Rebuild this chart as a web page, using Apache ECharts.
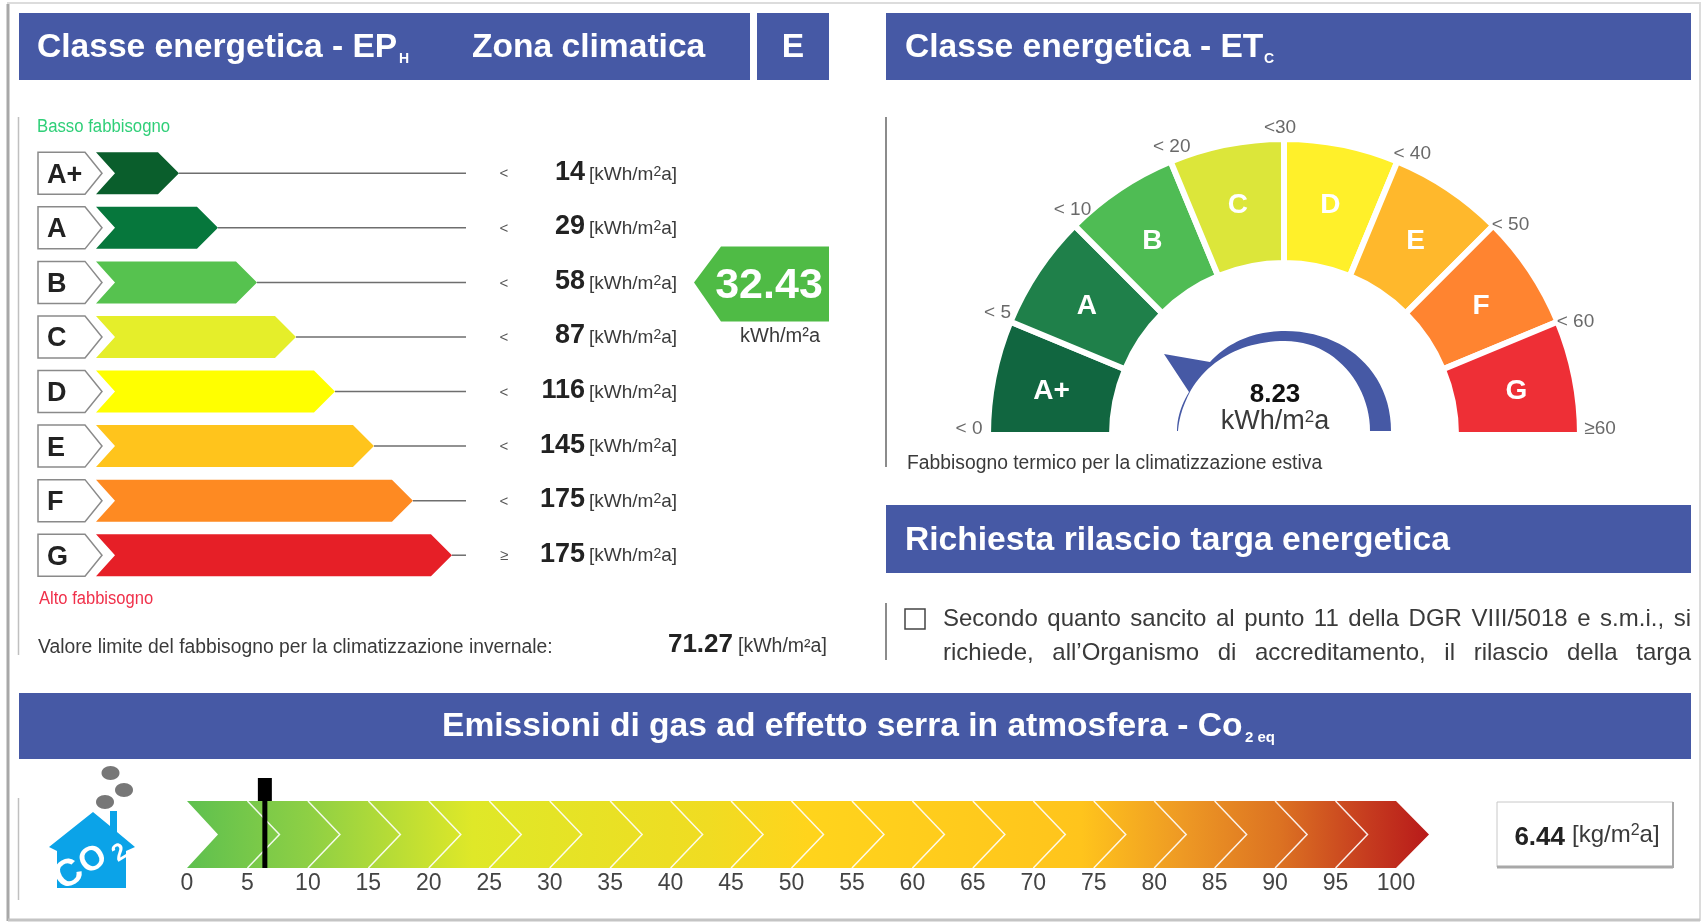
<!DOCTYPE html>
<html><head><meta charset="utf-8">
<style>html,body{margin:0;padding:0;background:#fff}#c{width:1704px;height:923px}</style>
<script src="https://cdn.jsdelivr.net/npm/echarts@6/dist/echarts.min.js"></script>
</head><body><div id="c"></div>
<script>
// ---- data ----
const classes = ['A+','A','B','C','D','E','F','G'];
const classRanks = [1,2,3,4,5,6,7,8];
const classLimits = [14,29,58,87,116,145,175,175];
const classOps = ['<','<','<','<','<','<','<','≥'];
const classColors = ['#0a5e2c','#06773c','#56c24f','#e5ee2a','#ffff00','#ffc41c','#fe8a22','#e61f27'];
const heatingValue = 32.43;
const heatingClass = 'B';
const heatingLimit = 71.27;
const gaugeClasses = ['A+','A','B','C','D','E','F','G'];
const gaugeColors = ['#116640','#1f804a','#4fbc54','#dce63a','#fff02a','#ffb82c','#ff8430','#ee2f36'];
const gaugeShares = [1,1,1,1,1,1,1,1];
const gaugeLimits = ['< 0','< 5','< 10','< 20','<30','< 40','< 50','< 60','≥60'];
const coolingValue = 8.23;
const co2Steps = [5,10,15,20,25,30,35,40,45,50,55,60,65,70,75,80,85,90,95];
const co2Range = [0,100];
const co2Value = 6.44;

// ---- style constants ----
const FAMILY = '"Liberation Sans", Arial, sans-serif';
const BLUE = '#4659a5';
const TXT = '#3a3a3a';
const HEAD = 33.6;
const f = (s, b) => (b ? 'bold ' : '') + s + 'px ' + FAMILY;
const rowsMin = -1.128, rowsMax = 8.36;
const gaugeLabelNudge = [[-6,-5],[-1,-3],[7,-6],[6,-2],[-4,3],[10,5],[8,9],[6,6],[7,-5]];
const ctx = document.createElement('canvas').getContext('2d');

function txt(x, y, text, font, fill, align, sx) {
  return {type:'text', silent:true, x, y, scaleX: sx || 1,
    style:{x:0, y:0, text, font, fill: fill || TXT, textAlign: align || 'left', textVerticalAlign:'middle'}};
}
// unit text with a raised "2"
function unit(before, after, size, supSize) {
  return {text: before + '{s|2}' + after, fontSize:size, fontFamily:FAMILY,
    rich:{s:{fontSize:supSize, fontFamily:FAMILY, verticalAlign:'top', fill:TXT}}};
}
function unitEl(x, y, before, after, size, supSize, sx, align) {
  return {type:'text', silent:true, x, y, scaleX: sx || 1,
    style:Object.assign({x:0, y:0, fill:TXT, textAlign: align || 'left', textVerticalAlign:'middle'}, unit(before, after, size, supSize))};
}
function band(x, y, w, h) {
  return {type:'rect', silent:true, shape:{x, y, width:w, height:h}, style:{fill:BLUE}};
}
function line(x1, y1, x2, y2, c, w) {
  return {type:'line', silent:true, shape:{x1, y1, x2, y2}, style:{stroke:c, lineWidth:w}};
}
function justified(s, x0, x1, y, font) {
  ctx.font = font;
  const words = s.split(' ');
  const tot = words.reduce((a, w) => a + ctx.measureText(w).width, 0);
  const gap = (x1 - x0 - tot) / (words.length - 1);
  let x = x0;
  return words.map(w => { const e = txt(x, y, w, font); x += ctx.measureText(w).width + gap; return e; });
}
// sample a chain of cubic segments into polygon points (the decorative gauge arrow)
function curve(start, segs) {
  const pts = [start];
  let p = start;
  segs.forEach(s => {
    if (s.length === 1) { pts.push(s[0]); p = s[0]; return; }
    for (let k = 1; k <= 24; k++) {
      const t = k / 24, u = 1 - t;
      pts.push([
        u*u*u*p[0] + 3*u*u*t*s[0][0] + 3*u*t*t*s[1][0] + t*t*t*s[2][0],
        u*u*u*p[1] + 3*u*u*t*s[0][1] + 3*u*t*t*s[1][1] + t*t*t*s[2][1]
      ]);
    }
    p = s[2];
  });
  return pts;
}
const arrowPts = curve([1391,431], [
  [[1391,372],[1345,331],[1285,331]],
  [[1255,331],[1228,342],[1210,362]],
  [[1164,354]], [[1189,392]],
  [[1181,405],[1177,418],[1177,431]],
  [[1178,431]],
  [[1179,418],[1183,405],[1191,390]],
  [[1210,358],[1245,341],[1285,341]],
  [[1335,341],[1370,385],[1370,431]]
]);

const decor = [
  // frame
  {type:'rect', silent:true, shape:{x:8, y:3, width:1692, height:917}, style:{fill:'none', stroke:'#dcdcdc', lineWidth:2}},
  line(8, 4, 8, 921, '#a8a8a8', 3),
  line(8, 920, 1700, 920, '#c4c4c4', 3),
  // section rules
  line(18.5, 117, 18.5, 655, '#c0c0c0', 1.5),
  line(886, 117, 886, 467, '#666', 1.5),
  line(886, 603, 886, 660, '#666', 1.5),
  line(18.5, 798, 18.5, 900, '#c0c0c0', 1.5),
  // header bands
  band(19, 13, 731, 67), band(757, 13, 72, 67), band(886, 13, 805, 67), band(886, 505, 805, 68), band(19, 693, 1672, 66),
  txt(37, 48, 'Classe energetica - EP', f(HEAD, 1), '#fff'),
  txt(399, 59, 'H', f(14, 1), '#fff'),
  txt(472, 48, 'Zona climatica', f(HEAD, 1), '#fff'),
  txt(793, 48, 'E', f(HEAD, 1), '#fff', 'center'),
  txt(905, 48, 'Classe energetica - ET', f(HEAD, 1), '#fff'),
  txt(1264, 59, 'C', f(14, 1), '#fff'),
  txt(905, 541, 'Richiesta rilascio targa energetica', f(HEAD, 1), '#fff'),
  txt(442, 727, 'Emissioni di gas ad effetto serra in atmosfera - Co', f(HEAD, 1), '#fff'),
  txt(1245, 738, '2 eq', f(15, 1), '#fff'),
  // left panel captions
  txt(37, 127, 'Basso fabbisogno', f(18), '#2fcf78', 'left', 0.93),
  txt(39, 599, 'Alto fabbisogno', f(18), '#f0304a', 'left', 0.92),
  txt(38, 647, 'Valore limite del fabbisogno per la climatizzazione invernale:', f(20), TXT, 'left', 0.965),
  txt(733, 645, String(heatingLimit), f(26, 1), '#222', 'right'),
  txt(738, 647, '[kWh/m²a]', f(19.5)),
  // gauge captions
  txt(907, 463, 'Fabbisogno termico per la climatizzazione estiva', f(20), TXT, 'left', 0.965),
  txt(1275, 395, String(coolingValue), f(26, 1), '#111', 'center'),
  unitEl(1275, 422, 'kWh/m', 'a', 27, 17, 1, 'center'),
  {type:'polygon', silent:true, shape:{points:arrowPts}, style:{fill:BLUE}},
  // request text
  {type:'rect', silent:true, shape:{x:905, y:609, width:20, height:20}, style:{fill:'#fff', stroke:'#444', lineWidth:1.5}},
  ...justified('Secondo quanto sancito al punto 11 della DGR VIII/5018 e s.m.i., si', 943, 1691, 619, f(24)),
  ...justified('richiede, all’Organismo di accreditamento, il rilascio della targa', 943, 1691, 653, f(24)),
  // CO2 result box
  {type:'rect', silent:true, shape:{x:1497, y:802, width:176, height:65}, style:{fill:'#fff', stroke:'#c8c8c8', lineWidth:1}},
  line(1497, 867, 1673, 867, '#a8a8a8', 3),
  line(1673, 802, 1673, 868, '#a8a8a8', 2),
  txt(1565, 838, String(co2Value), f(26, 1), '#222', 'right'),
  unitEl(1572, 835, '[kg/m', 'a]', 24, 16),
  // CO2 house icon
  {type:'polygon', silent:true, shape:{points:[[93,812],[110,826],[110,811],[117,811],[117,832],[135,847],[126,851],[126,888],[57,888],[57,851],[49,847]]}, style:{fill:'#0ba3e8'}},
  {type:'ellipse', silent:true, shape:{cx:110.5, cy:773, rx:9, ry:7}, style:{fill:'#777'}},
  {type:'ellipse', silent:true, shape:{cx:124, cy:790, rx:9, ry:7}, style:{fill:'#777'}},
  {type:'ellipse', silent:true, shape:{cx:105, cy:802, rx:9, ry:7}, style:{fill:'#777'}},
  {type:'text', silent:true, x:69, y:875, rotation:0.55, style:{text:'C', font:f(38, 1), fill:'#fff', textAlign:'center', textVerticalAlign:'middle'}},
  {type:'text', silent:true, x:93, y:860, rotation:0.55, style:{text:'O', font:f(34, 1), fill:'#fff', textAlign:'center', textVerticalAlign:'middle'}},
  {type:'text', silent:true, x:120, y:853, rotation:0.55, style:{text:'2', font:f(24, 1), fill:'#fff', textAlign:'center', textVerticalAlign:'middle'}}
];

function chevron(x0, x1, yc, h, notch, tip) {
  return [[x0, yc - h/2], [x1 - tip, yc - h/2], [x1, yc], [x1 - tip, yc + h/2], [x0, yc + h/2], [x0 + notch, yc]];
}

function renderRow(params, api) {
  const i = api.value(1), rank = api.value(0);
  const [xTip, yc] = api.coord([rank, i]);
  const [xStart] = api.coord([rowsMin, i]);
  const [xEnd] = api.coord([rowsMax, i]);
  const h = api.size([0, 1])[1] * 0.77;
  const name = classes[i];
  return {type:'group', children:[
    {type:'line', shape:{x1:xTip, y1:yc, x2:xEnd, y2:yc}, style:{stroke:'#6e6e6e', lineWidth:1.5}},
    {type:'polygon', shape:{points:chevron(xStart, xTip, yc, h, 19, 21)}, style:{fill:classColors[i]}},
    {type:'polygon', shape:{points:[[38, yc-h/2],[85, yc-h/2],[102, yc],[85, yc+h/2],[38, yc+h/2]]}, style:{fill:'#fff', stroke:'#8a8a8a', lineWidth:1.5}},
    {type:'text', style:{x:47, y:yc+2, text:name, font:f(27, 1), fill:'#222', textVerticalAlign:'middle'}},
    {type:'text', style:{x:504, y:yc+1, text:classOps[i], font:f(15), fill:'#555', textAlign:'center', textVerticalAlign:'middle'}},
    {type:'text', style:{x:585, y:yc-1, text:String(classLimits[i]), font:f(27, 1), fill:'#222', textAlign:'right', textVerticalAlign:'middle'}},
    {type:'text', style:Object.assign({x:589, y:yc+1, fill:TXT, textVerticalAlign:'middle'}, unit('[kWh/m', 'a]', 19, 14))}
  ]};
}

function renderHeatingTag(params, api) {
  const yc = api.coord([0, classes.indexOf(heatingClass)])[1];
  return {type:'group', children:[
    {type:'polygon', shape:{points:[[694, yc],[721, yc-36],[829, yc-36],[829, yc+39],[721, yc+39]]}, style:{fill:'#4fbb45'}},
    {type:'text', style:{x:769, y:yc+4, text:String(api.value(0)), font:f(43, 1), fill:'#fff', textAlign:'center', textVerticalAlign:'middle'}},
    {type:'text', style:{x:780, y:yc+54, text:'kWh/m²a', font:f(20), fill:TXT, textAlign:'center', textVerticalAlign:'middle'}}
  ]};
}

function renderBand(params, api) {
  const [x0, y1] = api.coord([api.value(0), 0]);
  const [x1, y0] = api.coord([api.value(1), 1]);
  const h = y1 - y0;
  return {type:'polygon', shape:{points:chevron(x0, x1 + 33, (y0 + y1)/2, h, 31, 33)},
    style:{fill:{type:'linear', x:0, y:0, x2:1, y2:0, colorStops:[
      {offset:0, color:'#5ec04f'},{offset:0.1, color:'#8fd044'},{offset:0.23, color:'#dfe828'},
      {offset:0.42, color:'#f0dc22'},{offset:0.5, color:'#ffd41c'},{offset:0.72, color:'#ffc41c'},
      {offset:0.8, color:'#ee9a24'},{offset:0.88, color:'#dc7222'},{offset:0.95, color:'#c63c1f'},{offset:1, color:'#b81a1a'}]}}};
}
function renderStep(params, api) {
  const [x, y1] = api.coord([api.value(0), 0]);
  const y0 = api.coord([api.value(0), 1])[1];
  return {type:'polyline', shape:{points:[[x, y0],[x + 32, (y0 + y1)/2],[x, y1]]}, style:{stroke:'rgba(255,255,255,0.9)', fill:'none', lineWidth:1.5}};
}
function renderMarker(params, api) {
  const [x, y1] = api.coord([api.value(0), 0]);
  const y0 = api.coord([api.value(0), 1])[1];
  return {type:'group', children:[
    {type:'line', shape:{x1:x, y1:y0, x2:x, y2:y1}, style:{stroke:'#000', lineWidth:5}},
    {type:'rect', shape:{x:x-7, y:y0-23, width:14, height:23}, style:{fill:'#000'}}
  ]};
}

const option = {
  animation:false,
  tooltip:{show:false},
  polar:{center:[1284, 434], radius:330},
  radiusAxis:{min:0, max:330, show:false},
  angleAxis:{type:'value', min:0, max:360, startAngle:180, clockwise:true, show:false},
  grid:[
    {left:96, width:370, top:146, height:436.5, containLabel:false},
    {left:187, width:1209, top:801, height:67, containLabel:false}
  ],
  xAxis:[
    {gridIndex:0, type:'value', min:rowsMin, max:rowsMax, show:false},
    {gridIndex:1, type:'value', min:co2Range[0], max:co2Range[1], interval:5,
      axisLine:{show:false}, axisTick:{show:false}, splitLine:{show:false},
      axisLabel:{show:true, margin:4, fontSize:23, color:'#444', fontFamily:FAMILY, hideOverlap:false, showMaxLabel:true, showMinLabel:true}}
  ],
  yAxis:[
    {gridIndex:0, type:'category', inverse:true, data:classes, show:false},
    {gridIndex:1, type:'value', min:0, max:1, show:false}
  ],
  graphic:{elements:decor},
  series:[
    {type:'custom', xAxisIndex:0, yAxisIndex:0, silent:true, clip:false,
      encode:{x:0, y:1}, renderItem:renderRow,
      data:classRanks.map((r, i) => [r, i])},
    {type:'custom', xAxisIndex:0, yAxisIndex:0, silent:true, clip:false,
      encode:{x:0}, renderItem:renderHeatingTag, data:[[heatingValue]]},
    {type:'custom', xAxisIndex:1, yAxisIndex:1, silent:true, clip:false,
      renderItem:renderBand, data:[[co2Range[0], co2Range[1]]]},
    {type:'custom', xAxisIndex:1, yAxisIndex:1, silent:true, clip:false,
      renderItem:renderStep, data:co2Steps.map(v => [v])},
    {type:'custom', xAxisIndex:1, yAxisIndex:1, silent:true, clip:false, z:5,
      renderItem:renderMarker, data:[[co2Value]]},
    {type:'pie', silent:true, center:[1284, 435], radius:[172, 296], startAngle:180, endAngle:0, clockwise:true,
      avoidLabelOverlap:false, minAngle:0,
      itemStyle:{borderColor:'#fff', borderWidth:6},
      label:{position:'inside', color:'#fff', fontWeight:'bold', fontSize:28, fontFamily:FAMILY, formatter:'{b}', offset:[0,3]},
      labelLine:{show:false},
      data:gaugeClasses.map((n, i) => ({name:n, value:gaugeShares[i], itemStyle:{color:gaugeColors[i]}}))},
    {type:'scatter', coordinateSystem:'polar', silent:true, symbolSize:0,
      label:{show:true, position:'inside', color:'#444', fontSize:19, fontFamily:FAMILY,
        formatter:p => gaugeLimits[p.dataIndex]},
      data:gaugeLimits.map((_, i) => ({value:[309, i * 180 / (gaugeLimits.length - 1)], label:{offset:gaugeLabelNudge[i]}}))}
  ]
};
const chart = echarts.init(document.getElementById('c'));
chart.setOption(option);
</script></body></html>
